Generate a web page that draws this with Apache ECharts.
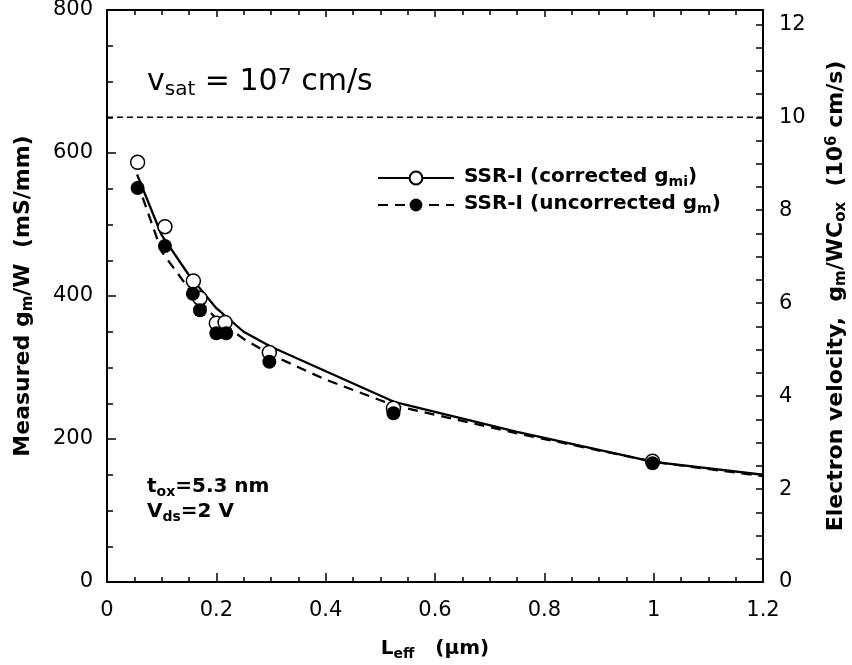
<!DOCTYPE html>
<html lang="en" style="height: 100%">
<head>
  <meta charset="utf-8">
</head>
<body style="height: 100%; margin: 0; background: #fff">
  <div id="container" style="width: 852px; height: 665px"></div>

  <script type="text/javascript" src="https://cdn.jsdelivr.net/npm/echarts@6/dist/echarts.min.js"></script>

  <script type="text/javascript">
    // measured points (open = corrected gmi, filled = uncorrected gm)
    const lCorrected = [0.056, 0.106, 0.158, 0.170, 0.200, 0.216, 0.297, 0.524, 0.998];
    const gmCorrected = [587, 497, 421, 397, 362, 363, 321, 243, 169];
    const lUncorrected = [0.056, 0.106, 0.157, 0.170, 0.200, 0.218, 0.297, 0.524, 0.998];
    const gmUncorrected = [551, 470, 403, 380, 348, 348, 308, 236, 166];

    // fitted curves
    const lFitSolid = [0.055, 0.1, 0.15, 0.2, 0.25, 0.3, 0.525, 0.75, 1.0, 1.2];
    const gmFitSolid = [570, 485, 429, 383, 350, 329, 252, 210, 168, 150];
    const lFitDashed = [0.055, 0.1, 0.15, 0.2, 0.25, 0.3, 0.4, 0.525, 0.75, 1.0, 1.2];
    const gmFitDashed = [560, 462, 410, 368, 340, 318, 283, 247, 208, 168, 148];

    // v_sat = 1e7 cm/s level, and the gm/W per 1e6 cm/s ratio of the right axis
    const vsatLevel = 650;
    const gmPerVelocity = 65;

    const nameSolid = 'SSR-I (corrected gmi)';
    const nameDashed = 'SSR-I (uncorrected gm)';

    const FONT = '"DejaVu Sans", "Liberation Sans", sans-serif';

    function zip(xs, ys) {
      return xs.map((x, i) => [x, ys[i]]);
    }

    // rich styles for sub/superscripts (b = bold, n = normal)
    function richSet(size) {
      const sub = Math.round(size * 0.68);
      return {
        b: { fontSize: size, fontWeight: 'bold', fontFamily: FONT, color: '#000', lineHeight: size + 2, verticalAlign: 'top' },
        s: { fontSize: sub, fontWeight: 'bold', fontFamily: FONT, color: '#000', lineHeight: Math.round(size * 0.7), padding: [Math.round(size * 0.42), 0, 0, 0], verticalAlign: 'top' },
        p: { fontSize: sub, fontWeight: 'bold', fontFamily: FONT, color: '#000', lineHeight: Math.round(size * 0.55), verticalAlign: 'top' },
        n: { fontSize: size, fontFamily: FONT, color: '#000', lineHeight: size + 2, verticalAlign: 'top' },
        ns: { fontSize: sub, fontFamily: FONT, color: '#000', lineHeight: Math.round(size * 0.7), padding: [Math.round(size * 0.42), 0, 0, 0], verticalAlign: 'top' },
        np: { fontSize: Math.round(size * 0.72), fontFamily: FONT, color: '#000', lineHeight: Math.round(size * 0.6), verticalAlign: 'top' }
      };
    }

    var dom = document.getElementById('container');
    var myChart = echarts.init(dom, null, { renderer: 'canvas' });

    const tickLabel = { fontSize: 21, color: '#000', fontFamily: FONT };
    const axisLine = { show: true, onZero: false, lineStyle: { color: '#000', width: 2 } };
    const tickStyle = { color: '#000', width: 1.5 };

    var option = {
      backgroundColor: '#fff',
      animation: false,
      grid: { left: 107, right: 89, top: 10, bottom: 83, containLabel: false, outerBoundsMode: 'none' },
      legend: {
        orient: 'vertical',
        left: 377,
        top: 167,
        padding: 0,
        itemWidth: 76,
        itemHeight: 16,
        itemGap: 5,
        data: [nameSolid, nameDashed],
        formatter: function (name) {
          return name === nameSolid
            ? '{b|SSR-I (corrected g}{s|mi}{b|)}'
            : '{b|SSR-I (uncorrected g}{s|m}{b|)}';
        },
        textStyle: { padding: [0, 0, 0, 5], rich: richSet(20) }
      },
      xAxis: [
        {
          type: 'value', position: 'bottom', min: 0, max: 1.2, interval: 0.2,
          axisLine: axisLine,
          axisTick: { inside: true, length: 9, lineStyle: tickStyle },
          minorTick: { show: true, splitNumber: 4, length: 5, lineStyle: tickStyle },
          splitLine: { show: false },
          axisLabel: { margin: 18, formatter: v => String(parseFloat(v.toFixed(2))), ...tickLabel },
          name: '{b|L}{s|eff}{b|   (μm)}',
          nameLocation: 'middle',
          nameGap: 57,
          nameMoveOverlap: false,
          nameTextStyle: { rich: richSet(20) }
        },
        {
          type: 'value', position: 'top', min: 0, max: 1.2, interval: 0.2,
          axisLine: axisLine,
          axisTick: { inside: true, length: 7, lineStyle: tickStyle },
          minorTick: { show: true, splitNumber: 4, length: 5, lineStyle: tickStyle },
          splitLine: { show: false },
          axisLabel: { show: false }
        }
      ],
      yAxis: [
        {
          type: 'value', position: 'left', min: 0, max: 800, interval: 200,
          axisLine: axisLine,
          axisTick: { inside: true, length: 9, lineStyle: tickStyle },
          minorTick: { show: true, splitNumber: 4, length: 6, lineStyle: tickStyle },
          splitLine: { show: false },
          axisLabel: { margin: 14, ...tickLabel },
          name: '{b|Measured g}{s|m}{b|/W  (mS/mm)}',
          nameLocation: 'middle',
          nameRotate: 90,
          nameGap: 71,
          nameMoveOverlap: false,
          nameTextStyle: { rich: richSet(22) }
        },
        {
          type: 'value', position: 'right', min: 0, max: 800 / gmPerVelocity, interval: 0.5,
          axisLine: axisLine,
          axisTick: { inside: true, length: 7, lineStyle: tickStyle },
          splitLine: { show: false },
          axisLabel: {
            margin: 16,
            showMaxLabel: false,
            formatter: v => (Math.abs(v - Math.round(v)) < 1e-6 && Math.round(v) % 2 === 0 ? String(Math.round(v)) : ''),
            ...tickLabel
          },
          name: '{b|Electron velocity,  g}{s|m}{b|/WC}{s|ox}{b|  (10}{p|6}{b| cm/s)}',
          nameLocation: 'middle',
          nameRotate: 90,
          nameGap: 62,
          nameMoveOverlap: false,
          nameTextStyle: { rich: richSet(22) }
        }
      ],
      graphic: [
        {
          type: 'text', left: 147, top: 67,
          style: { text: '{n|v}{ns|sat}{n| = 10}{np|7}{n| cm/s}', rich: richSet(30) }
        },
        {
          type: 'text', left: 147, top: 477,
          style: { text: '{b|t}{s|ox}{b|=5.3 nm}', rich: richSet(20) }
        },
        {
          type: 'text', left: 147, top: 502,
          style: { text: '{b|V}{s|ds}{b|=2 V}', rich: richSet(20) }
        }
      ],
      series: [
        {
          name: 'vsat', type: 'line', xAxisIndex: 0, yAxisIndex: 0,
          data: [[0, vsatLevel], [1.2, vsatLevel]],
          showSymbol: false, symbol: 'none', silent: true,
          lineStyle: { color: '#000', width: 1.5, type: [6, 4] }
        },
        {
          name: nameSolid, type: 'line', xAxisIndex: 0, yAxisIndex: 0,
          data: zip(lFitSolid, gmFitSolid),
          symbol: 'emptyCircle', showSymbol: false, z: 2,
          itemStyle: { color: '#000' },
          lineStyle: { color: '#000', width: 2.3 }
        },
        {
          name: nameDashed, type: 'line', xAxisIndex: 0, yAxisIndex: 0,
          data: zip(lFitDashed, gmFitDashed),
          symbol: 'circle', showSymbol: false, z: 2,
          itemStyle: { color: '#000' },
          lineStyle: { color: '#000', width: 2.3, type: [10, 7] }
        },
        {
          name: 'corrected points', type: 'scatter', xAxisIndex: 0, yAxisIndex: 0,
          data: zip(lCorrected, gmCorrected),
          symbol: 'circle', symbolSize: 14, z: 3,
          itemStyle: { color: '#fff', borderColor: '#000', borderWidth: 1.5, opacity: 1 }
        },
        {
          name: 'uncorrected points', type: 'scatter', xAxisIndex: 0, yAxisIndex: 0,
          data: zip(lUncorrected, gmUncorrected),
          symbol: 'circle', symbolSize: 14, z: 4,
          itemStyle: { color: '#000', opacity: 1 }
        }
      ]
    };

    myChart.setOption(option);
    window.addEventListener('resize', myChart.resize);
  </script>
</body>
</html>
